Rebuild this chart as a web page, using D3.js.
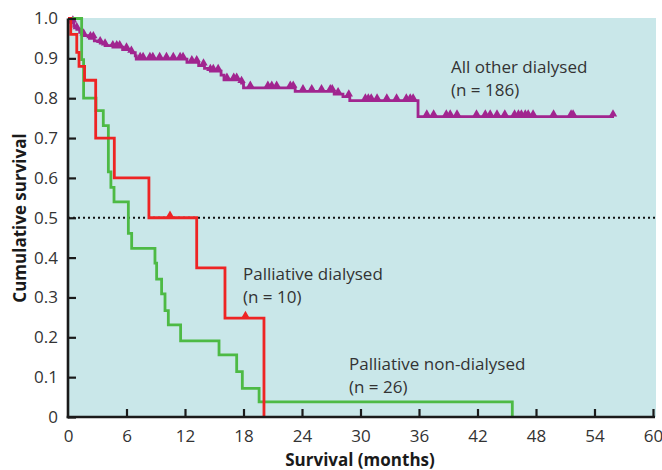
<!DOCTYPE html>
<html><head><meta charset="utf-8">
<script src="https://cdn.jsdelivr.net/npm/d3@7"></script>
<style>
html,body{margin:0;padding:0;background:#fff;}
text{font-family:"Open Sans",sans-serif;}
</style></head>
<body><svg id="c" width="662" height="470"></svg>
<script>
// ---------- data ----------
const xTickValues = [0, 6, 12, 18, 24, 30, 36, 42, 48, 54, 60];
const yTickValues = [0, 0.1, 0.2, 0.3, 0.4, 0.5, 0.6, 0.7, 0.8, 0.9, 1.0];
const yTickLabels = ["0", "0.1", "0.2", "0.3", "0.4", "0.5", "0.6", "0.7", "0.8", "0.9", "1.0"];

// All other dialysed (n = 186)
const otherTimes = [0, 0.3, 0.6, 0.9, 1.2, 1.6, 2.2, 2.7, 3.3, 3.8, 4.6, 5.6, 6.5, 6.9, 7.0, 12.2, 13.4, 14.0, 14.6, 15.7, 16.0, 17.8, 18.0, 23.3, 27.3, 28.2, 28.9, 35.9];
const otherSurv  = [1.0, 0.99, 0.98, 0.973, 0.965, 0.957, 0.95, 0.944, 0.938, 0.932, 0.928, 0.922, 0.914, 0.906, 0.898, 0.89, 0.882, 0.875, 0.868, 0.858, 0.846, 0.838, 0.826, 0.817, 0.81, 0.804, 0.794, 0.754];
const otherEnd = 56;
const otherCensor = [0.5, 0.9, 1.6, 2.3, 2.6, 3.3, 3.8, 4.6, 5.0, 5.3, 6.0, 6.5, 7.4, 7.7, 8.4, 8.7, 9.4, 10.1, 10.8, 11.5, 11.8,
  12.7, 13.2, 13.9, 14.6, 14.9, 15.4, 16.3, 17.0, 17.3, 17.8, 18.7, 20.5, 20.9, 21.4, 22.8, 23.1, 24.1, 25.0, 26.0, 26.9, 27.1,
  27.7, 28.8, 30.5, 30.8, 31.1, 31.7, 32.7, 33.7, 34.7, 35.1, 35.4, 36.8, 37.5, 38.8, 39.2, 39.9, 41.9, 42.8, 43.3, 44.0, 44.8,
  45.8, 46.2, 46.5, 46.9, 47.2, 47.7, 49.8, 51.6, 51.8, 55.9];

// Palliative dialysed (n = 10)
const palDialTimes = [0, 0.28, 0.9, 1.13, 1.7, 2.84, 4.75, 8.3, 13.2, 16.1, 20.1];
const palDialSurv  = [1.0, 0.96, 0.915, 0.88, 0.845, 0.70, 0.60, 0.50, 0.374, 0.248, 0];
const palDialCensor = [10.46, 18.2];

// Palliative non-dialysed (n = 26)
const palNonTimes = [0, 1.4, 1.6, 2.87, 3.62, 4.14, 4.4, 4.72, 6.19, 6.53, 8.92, 9.09, 9.6, 9.95, 10.29, 11.55, 15.49, 17.3, 17.88, 19.6, 45.57];
const palNonSurv  = [1.0, 0.897, 0.80, 0.769, 0.731, 0.615, 0.576, 0.54, 0.461, 0.423, 0.386, 0.346, 0.309, 0.267, 0.231, 0.191, 0.156, 0.114, 0.072, 0.038, 0];

const medianLine = 0.5;

// ---------- chart ----------
const svg = d3.select("#c");
const x = d3.scaleLinear().domain([0, 60]).range([68, 653]);
const y = d3.scaleLinear().domain([0, 1]).range([417, 18.5]);

svg.append("rect").attr("x", x(0)).attr("y", 18).attr("width", 656 - x(0)).attr("height", y(0) - 18)
  .attr("fill", "#c9e7e9");

// median dotted line
svg.append("line").attr("x1", x(0)).attr("x2", x(60) + 2).attr("y1", y(medianLine)).attr("y2", y(medianLine))
  .attr("stroke", "#111").attr("stroke-width", 2).attr("stroke-dasharray", "2,3");

function stepPoints(times, surv, end) {
  const pts = times.map((t, i) => [t, surv[i]]);
  if (end !== undefined) pts.push([end, surv[surv.length - 1]]);
  return pts;
}
function survAt(times, surv, t) {
  let v = surv[0];
  for (let i = 0; i < times.length; i++) if (times[i] <= t) v = surv[i];
  return v;
}
const line = d3.line().x(d => x(d[0])).y(d => y(d[1])).curve(d3.curveStepAfter);

const purple = "#a1258f", red = "#ee2424", green = "#4dba45";

svg.append("path").datum(stepPoints(otherTimes, otherSurv, otherEnd)).attr("d", line)
  .attr("fill", "none").attr("stroke", purple).attr("stroke-width", 2.8);
const tri = d3.symbol().type(d3.symbolTriangle).size(30);
svg.append("g").selectAll("path").data(otherCensor).join("path")
  .attr("d", tri).attr("fill", purple)
  .attr("transform", d => `translate(${x(d)},${y(survAt(otherTimes, otherSurv, d)) - 2.5})`);

svg.append("path").datum(stepPoints(palNonTimes, palNonSurv)).attr("d", line)
  .attr("fill", "none").attr("stroke", green).attr("stroke-width", 2.8);

svg.append("path").datum(stepPoints(palDialTimes, palDialSurv)).attr("d", line)
  .attr("fill", "none").attr("stroke", red).attr("stroke-width", 2.8);
svg.append("g").selectAll("path").data(palDialCensor).join("path")
  .attr("d", tri).attr("fill", red)
  .attr("transform", d => `translate(${x(d)},${y(survAt(palDialTimes, palDialSurv, d)) - 2.5})`);

// axes
const xAxis = d3.axisBottom(x).tickValues(xTickValues).tickSizeInner(-8).tickSizeOuter(0).tickPadding(13);
const yAxis = d3.axisLeft(y).tickValues(yTickValues).tickSizeInner(-8).tickSizeOuter(0).tickPadding(10)
  .tickFormat((d, i) => yTickLabels[i]);

const gx = svg.append("g").attr("transform", `translate(0,${y(0)})`).call(xAxis);
const gy = svg.append("g").attr("transform", `translate(${x(0)},0)`).call(yAxis);
[gx, gy].forEach(g => {
  g.select(".domain").attr("stroke", "#1a1a1a").attr("stroke-width", 2.6);
  g.selectAll(".tick line").attr("stroke", "#1a1a1a").attr("stroke-width", 2.2);
  g.selectAll(".tick text").attr("fill", "#333").style("font-family", '"Open Sans", sans-serif').style("font-size", "17px");
});
gx.select(".domain").attr("d", `M${x(0) - 1.3},0H${x(60) + 2}`);
gy.select(".domain").attr("d", `M0,${y(0) + 1.3}V${y(1)}`);
gx.selectAll(".tick").filter(d => d === 0).select("line").remove();

// axis titles
svg.append("text").attr("x", 360).attr("y", 466).attr("text-anchor", "middle")
  .attr("font-weight", "bold").attr("font-size", "17px").attr("fill", "#1a1a1a").text("Survival (months)");
svg.append("text").attr("transform", "translate(25.5,218) rotate(-90)").attr("text-anchor", "middle")
  .attr("font-weight", "bold").attr("font-size", "17px").attr("fill", "#1a1a1a").text("Cumulative survival");

// curve labels
const labels = [
  {x: 451, y: 72.5, lines: ["All other dialysed", "(n = 186)"]},
  {x: 243, y: 280, lines: ["Palliative dialysed", "(n = 10)"]},
  {x: 349, y: 370, lines: ["Palliative non-dialysed", "(n = 26)"]}
];
labels.forEach(l => {
  l.lines.forEach((s, i) => {
    svg.append("text").attr("x", l.x).attr("y", l.y + i * 23.3).attr("font-size", "17px")
      .attr("fill", "#333").text(s);
  });
});
</script>
</body></html>
